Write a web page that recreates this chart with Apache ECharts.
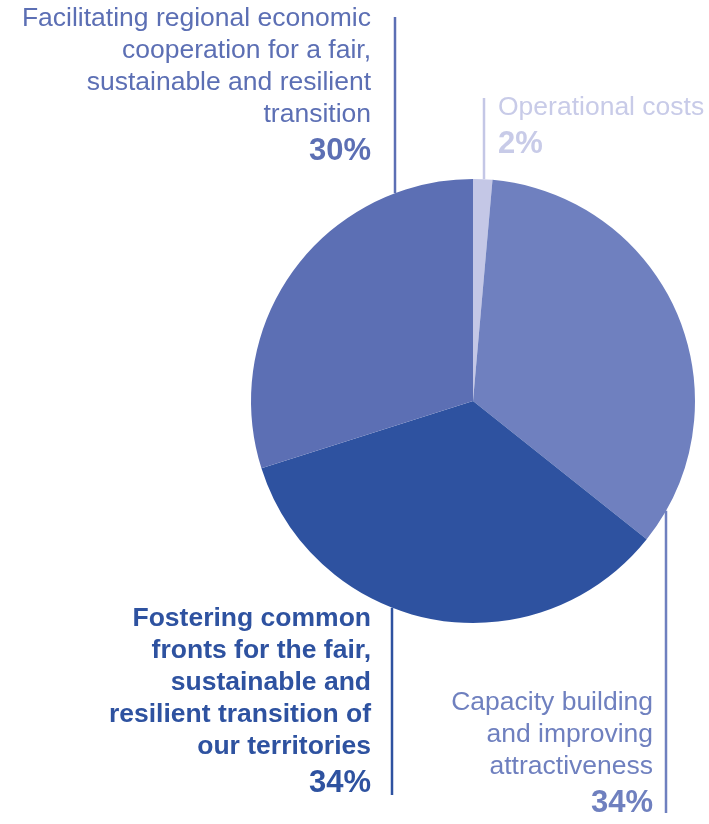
<!DOCTYPE html>
<html><head><meta charset="utf-8">
<script src="https://cdn.jsdelivr.net/npm/echarts@6/dist/echarts.min.js"></script>
<style>html,body{margin:0;padding:0;background:#fff}#c{width:709px;height:824px}</style>
</head><body><div id="c"></div>
<script>
// ---- data ----
const categories = [
  'Operational costs',
  'Capacity building\nand improving\nattractiveness',
  'Fostering common\nfronts for the fair,\nsustainable and\nresilient transition of\nour territories',
  'Facilitating regional economic\ncooperation for a fair,\nsustainable and resilient\ntransition'
];
const values = [1.4, 34.3, 34.4, 29.9];
const percentLabels = ['2%', '34%', '34%', '30%'];

// ---- styles / layout ----
const sliceColors = ['#c4c7e6', '#6f80bf', '#2e52a0', '#5c6fb4'];
const textColors  = ['#c8cbe8', '#6f80bf', '#2e52a0', '#5c6fb4'];
const bold = [false, false, true, false];
const CX = 473, CY = 401, R = 222;
function edgeY(x, top) {
  const d = Math.sqrt(R * R - (x - CX) * (x - CX));
  return top ? CY - d : CY + d;
}
const place = [
  { x: 498, y: 91.5, align: 'left',  lx: 484, from: 98,  to: 'top' },
  { x: 653, y: 686.5, align: 'right', lx: 666, from: 'bottom', to: 813 },
  { x: 371, y: 602.5, align: 'right', lx: 392, from: 'bottom', to: 795 },
  { x: 371, y: 2.5,  align: 'right', lx: 395, from: 17, to: 'top' }
];

const chart = echarts.init(document.getElementById('c'), null, { renderer: 'canvas' });
const FONT = '"Liberation Sans", Arial, Helvetica, sans-serif';

const data = categories.map((name, i) => ({
  name: name,
  value: values[i],
  itemStyle: { color: sliceColors[i] },
  label: { color: textColors[i] },
  labelLine: { lineStyle: { color: sliceColors[i] } }
}));

chart.setOption({
  animation: false,
  backgroundColor: '#ffffff',
  series: [{
    type: 'pie',
    center: [CX, CY],
    radius: R,
    startAngle: 90,
    clockwise: true,
    avoidLabelOverlap: false,
    silent: true,
    emphasis: { disabled: true },
    itemStyle: { borderWidth: 0 },
    data: data,
    label: {
      show: true,
      position: 'outside',
      fontFamily: FONT,
      formatter: function (p) {
        const i = p.dataIndex;
        const key = bold[i] ? 'nb' : 'n';
        return '{' + key + '|' + p.name + '}\n{p|' + percentLabels[i] + '}';
      },
      rich: {
        n:  { fontFamily: FONT, fontSize: 26.5, lineHeight: 32, fontWeight: 'normal' },
        nb: { fontFamily: FONT, fontSize: 26.5, lineHeight: 32, fontWeight: 'bold' },
        p:  { fontFamily: FONT, fontSize: 31, lineHeight: 42, fontWeight: 'bold' }
      }
    },
    labelLine: { show: true, length: 10, length2: 10, lineStyle: { width: 2.5 } },
    labelLayout: function (params) {
      const p = place[params.dataIndex];
      const y1 = p.from === 'bottom' ? edgeY(p.lx, false) : p.from;
      const y2 = p.to === 'top' ? edgeY(p.lx, true) : p.to;
      return {
        x: p.x,
        y: p.y,
        align: p.align,
        verticalAlign: 'top',
        labelLinePoints: [[p.lx, y1], [p.lx, (y1 + y2) / 2], [p.lx, y2]]
      };
    }
  }]
});
</script>
</body></html>
